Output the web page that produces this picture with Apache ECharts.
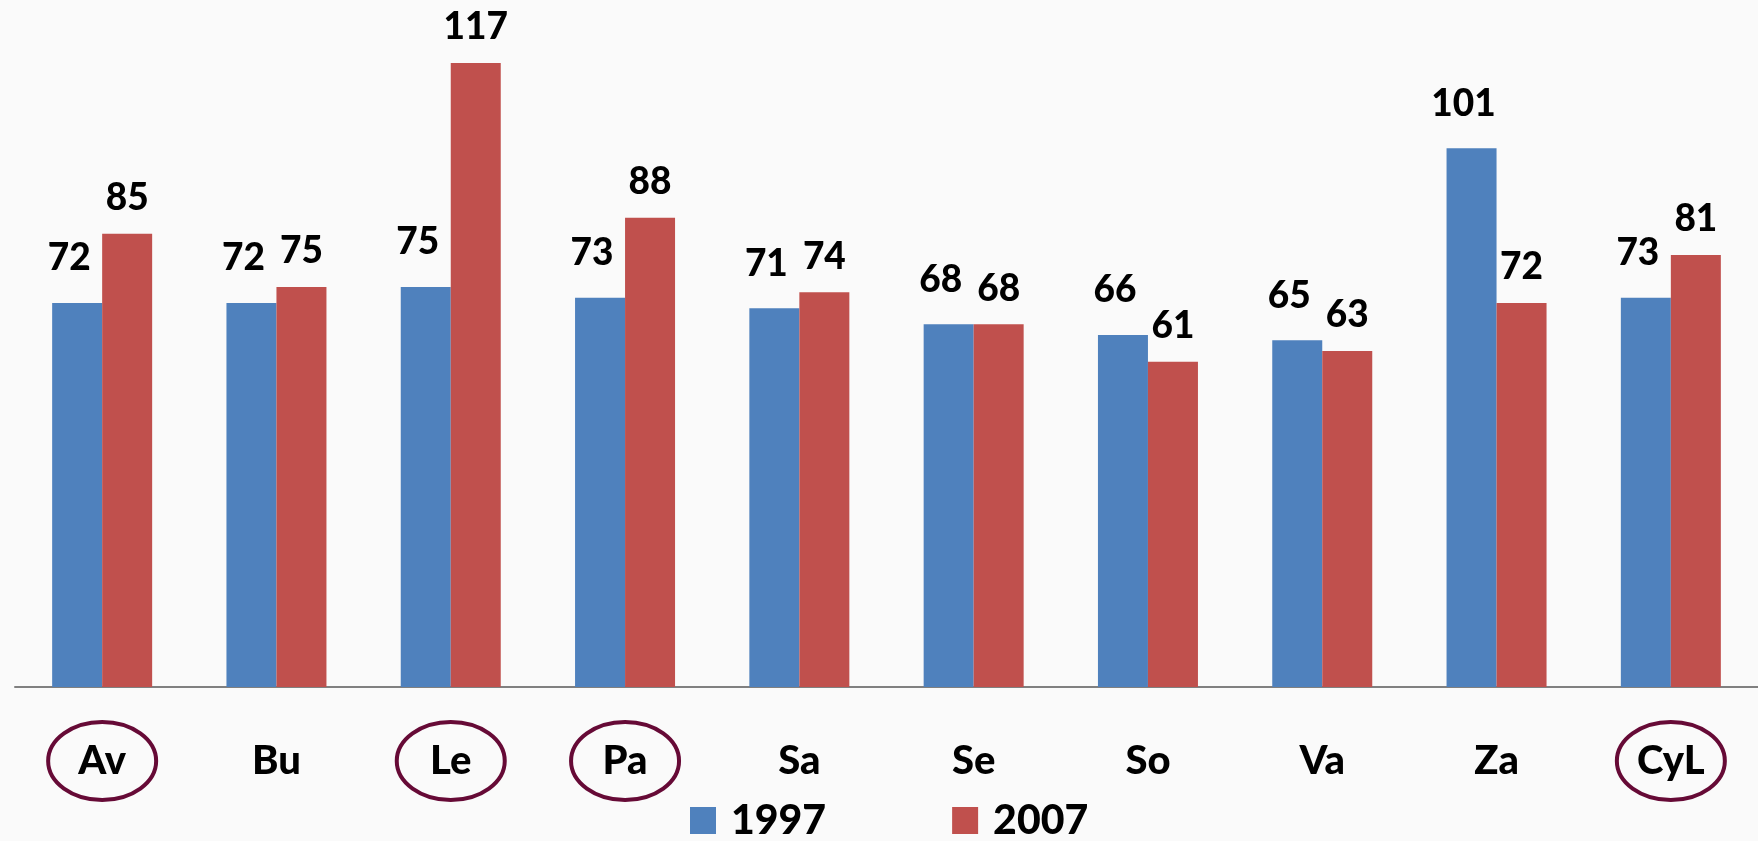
<!DOCTYPE html>
<html>
<head>
<meta charset="utf-8">
<script src="https://cdn.jsdelivr.net/npm/echarts@6/dist/echarts.min.js"></script>
<style>
    html, body { margin: 0; padding: 0; background: #fafafa; }
    #chart { width: 1758px; height: 841px; }
</style>
</head>
<body>
<div id="chart"></div>
<script>
'use strict';
// datos
var categorias = ['Av', 'Bu', 'Le', 'Pa', 'Sa', 'Se', 'So', 'Va', 'Za', 'CyL'];
var serie1997 = [72, 72, 75, 73, 71, 68, 66, 65, 101, 73];
var serie2007 = [85, 75, 117, 88, 74, 68, 61, 63, 72, 81];
var marcadas = ['Av', 'Le', 'Pa', 'CyL'];

var fuente = 'Lato';
var peso = 900;
var myChart = echarts.init(document.getElementById('chart'));

var option = {
    backgroundColor: '#fafafa',
    animation: false,
    legend: {
        left: 685,
        top: 795,
        itemWidth: 26,
        itemHeight: 27,
        itemGap: 126,
        icon: 'rect',
        textStyle: {
            fontFamily: fuente,
            fontWeight: peso,
            fontSize: 41,
            color: '#000',
            padding: [0, 0, 0, 10]
        },
        data: ['1997', '2007']
    },
    grid: {
        left: 15,
        width: 1744,
        top: 47,
        height: 640
    },
    xAxis: {
        type: 'category',
        data: categorias,
        axisLine: { lineStyle: { color: '#808080', width: 2 } },
        axisTick: { length: 17, lineStyle: { color: '#808080', width: 2 } },
        axisLabel: {
            margin: 54,
            fontFamily: fuente,
            fontWeight: peso,
            fontSize: 40,
            color: '#000'
        }
    },
    yAxis: {
        type: 'value',
        min: 0,
        max: 120,
        show: false,
        splitLine: { show: false }
    },
    series: [{
        name: '1997',
        type: 'bar',
        barWidth: 50,
        barGap: '0%',
        itemStyle: { color: '#4F81BD' },
        label: {
            show: true,
            position: 'top',
            distance: 26,
            offset: [-8, 0],
            fontFamily: fuente,
            fontWeight: peso,
            fontSize: 37,
            color: '#000'
        },
        data: serie1997
    }, {
        name: '2007',
        type: 'bar',
        barWidth: 50,
        barGap: '0%',
        itemStyle: { color: '#C0504D' },
        label: {
            show: true,
            position: 'top',
            distance: 17,
            fontFamily: fuente,
            fontWeight: peso,
            fontSize: 37,
            color: '#000'
        },
        data: serie2007
    }]
};
myChart.setOption(option);

// elipses alrededor de algunas etiquetas
var y0 = myChart.convertToPixel({ yAxisIndex: 0 }, 0);
var elipses = [];
for (var i = 0; i < marcadas.length; i++) {
    var cx = myChart.convertToPixel({ xAxisIndex: 0 }, marcadas[i]);
    elipses.push({
        type: 'ellipse',
        shape: { cx: cx, cy: y0 + 74, rx: 54, ry: 39 },
        style: { fill: 'none', stroke: '#660a36', lineWidth: 4 },
        z: 10
    });
}
myChart.setOption({ graphic: elipses });
</script>
</body>
</html>
